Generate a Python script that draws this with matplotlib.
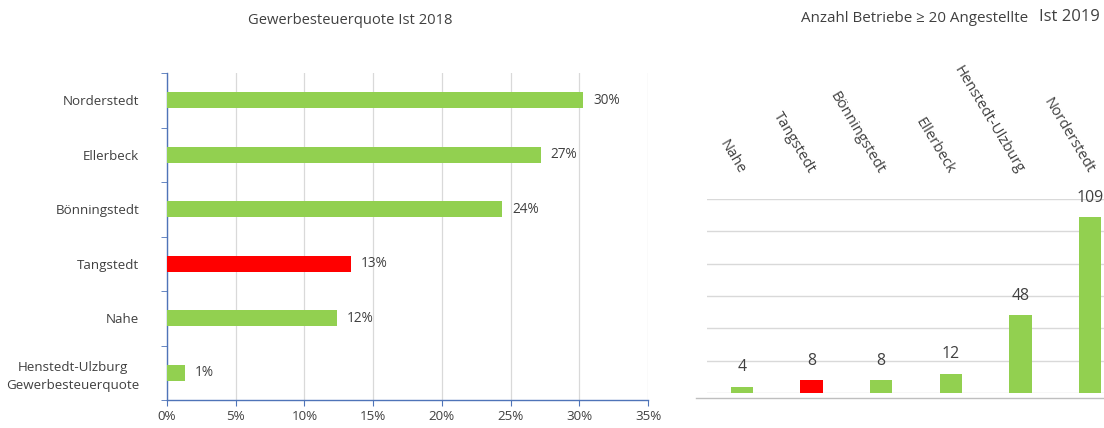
import matplotlib
matplotlib.use("Agg")
import matplotlib.pyplot as plt
from matplotlib.lines import Line2D
import numpy as np

plt.rcParams['font.family'] = ['Open Sans', 'DejaVu Sans']

# Left chart data
left_categories = ["Henstedt-Ulzburg\nGewerbesteuerquote", "Nahe", "Tangstedt",
                   "Bönningstedt", "Ellerbeck", "Norderstedt"]
left_values = [0.013, 0.124, 0.134, 0.244, 0.272, 0.303]
left_labels = ["1%", "12%", "13%", "24%", "27%", "30%"]
left_colors = ["#92D050", "#92D050", "#FF0000", "#92D050", "#92D050", "#92D050"]
left_xticks = [0, 0.05, 0.10, 0.15, 0.20, 0.25, 0.30, 0.35]
left_xticklabels = ["0%", "5%", "10%", "15%", "20%", "25%", "30%", "35%"]

# Right chart data
right_categories = ["Nahe", "Tangstedt", "Bönningstedt", "Ellerbeck",
                    "Henstedt-Ulzburg", "Norderstedt"]
right_values = [4, 8, 8, 12, 48, 109]
right_colors = ["#92D050", "#FF0000", "#92D050", "#92D050", "#92D050", "#92D050"]

W, H = 1104, 428
fig = plt.figure(figsize=(W / 100, H / 100), dpi=100)
fig.patch.set_facecolor("white")

txt = "#404040"
axis_blue = "#4F74B8"
grid_c = "#D9D9D9"

def fx(px):
    return px / W

def fy(py):
    return 1 - py / H

# ---------- Left chart ----------
ax1 = fig.add_axes([fx(167), fy(400), fx(648) - fx(167), fy(73) - fy(400)])
y = np.arange(len(left_categories))
ax1.barh(y, left_values, height=0.3, color=left_colors, zorder=3)
ax1.set_xlim(0, 0.35)
ax1.set_ylim(-0.5, len(left_categories) - 0.5)
ax1.set_xticks(left_xticks)
ax1.set_xticklabels(left_xticklabels, fontsize=9.6, color=txt)
ax1.set_yticks(y)
ax1.set_yticklabels(left_categories, fontsize=9.6, color=txt, linespacing=1.45)
ax1.set_yticks(np.arange(-0.5, len(left_categories)), minor=True)
ax1.tick_params(axis='y', which='major', length=0, pad=20)
ax1.tick_params(axis='y', which='minor', length=4, color=axis_blue, direction='out')
ax1.tick_params(axis='x', which='major', length=4, color=axis_blue, direction='out', pad=3)
ax1.grid(axis='x', color=grid_c, linewidth=0.9, zorder=0)
for s in ['top', 'right']:
    ax1.spines[s].set_visible(False)
for s in ['left', 'bottom']:
    ax1.spines[s].set_color(axis_blue)
    ax1.spines[s].set_linewidth(1.0)
for i, (v, lab) in enumerate(zip(left_values, left_labels)):
    ax1.annotate(lab, (v, i), xytext=(7, 0), textcoords='offset points',
                 va='center', ha='left', fontsize=9.8, color=txt)
for t in ax1.get_yticklabels():
    t.set_multialignment('center')

fig.text(fx(350), fy(20), "Gewerbesteuerquote Ist 2018", ha='center', va='center',
         fontsize=10.6, color=txt)

# ---------- Right chart ----------
ax2 = fig.add_axes([fx(707), fy(393), fx(1125) - fx(707), fy(199) - fy(393)])
x = np.arange(len(right_categories))
ax2.bar(x, right_values, width=0.32, color=right_colors, zorder=3)
ax2.set_xlim(-0.5, len(right_categories) - 0.5)
ax2.set_ylim(0, 120)
ax2.set_yticks(np.arange(0, 121, 20))
ax2.set_yticklabels([])
ax2.tick_params(axis='y', length=0)
ax2.grid(axis='y', color=grid_c, linewidth=1.0, zorder=0)
for s in ['top', 'right', 'left', 'bottom']:
    ax2.spines[s].set_visible(False)
ax2.xaxis.tick_top()
ax2.set_xticks(x)
ax2.set_xticklabels(right_categories, rotation=-59, ha='right', va='center',
                    rotation_mode='anchor', fontsize=10.7, color=txt)
ax2.tick_params(axis='x', length=0, pad=19)
for i, v in enumerate(right_values):
    ax2.annotate(str(v), (i, v), xytext=(0, 8), textcoords='offset points',
                 ha='center', va='bottom', fontsize=11.4, color=txt)

fig.add_artist(Line2D([fx(696), 1], [fy(398), fy(398)], color="#BFBFBF", linewidth=1.0))

fig.text(fx(801), fy(18), "Anzahl Betriebe \u2265 20 Angestellte", ha='left', va='center',
         fontsize=10.9, color=txt)
fig.text(fx(1039), fy(17), "Ist 2019", ha='left', va='center', fontsize=12, color=txt)

fig.savefig("out.png", dpi=100, facecolor="white")
